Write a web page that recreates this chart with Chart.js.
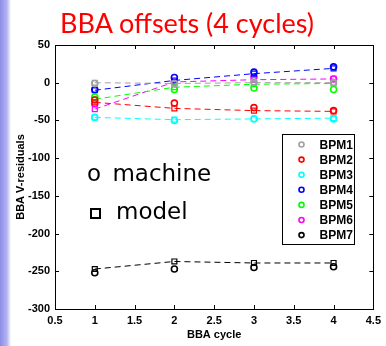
<!DOCTYPE html>
<html>
<head>
<meta charset="utf-8">
<script src="https://cdn.jsdelivr.net/npm/chart.js@4"></script>
<style>
  html, body { margin: 0; padding: 0; }
  body {
    width: 386px; height: 346px; position: relative; overflow: hidden;
    background: linear-gradient(to right, #8c8ce6 0px, #b4b4f2 7px, #ffffff 11px);
  }
  #c { position: absolute; left: 0; top: 0; }
  .title {
    position: absolute; left: 60px; top: 6px;
    font-family: Lato, "Open Sans", sans-serif; font-size: 27px; color: #ff0000;
    white-space: nowrap;
  }
  .note {
    position: absolute; font-family: "DejaVu Sans", sans-serif; font-size: 23px;
    color: #000; white-space: nowrap;
  }
  .sq { display: inline-block; width: 7px; height: 7px; border: 2px solid #000; margin-right: 15px; }
</style>
</head>
<body>
<canvas id="c" width="386" height="346"></canvas>
<div class="title">BBA offsets (4 cycles)</div>
<div class="note" style="left:87px; top:160px; word-spacing:4px;">o machine</div>
<div class="note" style="left:90px; top:198px;"><span class="sq"></span>model</div>
<script>
const cycles = [1, 2, 3, 4];
const bpmNames = ["BPM1", "BPM2", "BPM3", "BPM4", "BPM5", "BPM6", "BPM7"];
const bpmColors = ["#a0a0a0", "#ff0000", "#00ffff", "#0000ff", "#00ff00", "#ff00ff", "#000000"];

// machine (circles)
const machine = [
  [-1, -1, 1, 0],
  [-23, -27, -33, -37],
  [-46, -50, -48, -48],
  [-9, 7, 14, 21],
  [-19, -9, -7, -9],
  [-28, 1, 8, 5],
  [-252, -247, -245, -244]
];
// model (squares, dashed)
const model = [
  [0, -1, 0, 0],
  [-26, -34, -37, -38],
  [-46, -49, -48, -47],
  [-10, 3, 12, 19],
  [-22, -6, -2, -1],
  [-35, 1, 4, 5],
  [-247, -237, -239, -239]
];

const xTicks = [0.5, 1, 1.5, 2, 2.5, 3, 3.5, 4, 4.5];
const yTicks = [50, 0, -50, -100, -150, -200, -250, -300];

const datasets = [];
bpmNames.forEach((name, i) => {
  datasets.push({
    label: name + " model",
    data: cycles.map((c, j) => ({x: c, y: model[i][j]})),
    borderColor: bpmColors[i],
    backgroundColor: "transparent",
    borderWidth: 1,
    borderDash: [6, 4],
    pointStyle: "rect",
    pointRadius: 3.5,
    pointBorderWidth: 1.2,
    showLine: true
  });
  datasets.push({
    label: name,
    data: cycles.map((c, j) => ({x: c, y: machine[i][j]})),
    borderColor: bpmColors[i],
    backgroundColor: "transparent",
    pointStyle: "circle",
    pointRadius: 3,
    pointBorderWidth: 1.6,
    showLine: false
  });
});

const tickFont = {family: "Liberation Sans, Arial, sans-serif", size: 11, weight: "bold"};

const frame = {
  id: "frame",
  afterDraw(chart) {
    const {ctx, chartArea: a, scales} = chart;
    ctx.save();
    ctx.strokeStyle = "#000";
    ctx.lineWidth = 1;
    ctx.strokeRect(Math.round(a.left) + 0.5, Math.round(a.top) + 0.5,
      Math.round(a.right - a.left), Math.round(a.bottom - a.top));
    ctx.beginPath();
    xTicks.forEach(v => {
      const px = Math.round(scales.x.getPixelForValue(v)) + 0.5;
      ctx.moveTo(px, a.bottom); ctx.lineTo(px, a.bottom - 4);
      ctx.moveTo(px, a.top); ctx.lineTo(px, a.top + 4);
    });
    yTicks.forEach(v => {
      const py = Math.round(scales.y.getPixelForValue(v)) + 0.5;
      ctx.moveTo(a.left, py); ctx.lineTo(a.left + 4, py);
      ctx.moveTo(a.right, py); ctx.lineTo(a.right - 4, py);
    });
    ctx.stroke();

    // legend box
    const lx = Math.round(a.right - 91) + 0.5, ly = Math.round(a.top + 89) + 0.5;
    ctx.fillStyle = "#fff";
    ctx.fillRect(lx, ly, 72, 110);
    ctx.strokeRect(lx, ly, 72, 110);
    ctx.font = "bold 12px Liberation Sans, Arial, sans-serif";
    ctx.textBaseline = "middle";
    bpmNames.forEach((name, i) => {
      const ry = ly + 10 + i * 15.1;
      ctx.beginPath();
      ctx.strokeStyle = bpmColors[i];
      ctx.lineWidth = 1.6;
      ctx.arc(lx + 19, ry, 2.5, 0, Math.PI * 2);
      ctx.stroke();
      ctx.fillStyle = "#000";
      ctx.fillText(name, lx + 37, ry + 1);
    });
    ctx.restore();
  }
};

new Chart(document.getElementById("c"), {
  type: "scatter",
  data: {datasets},
  options: {
    responsive: false,
    animation: false,
    devicePixelRatio: 1,
    layout: {padding: {top: 45, right: 11, left: 14, bottom: 4}},
    plugins: {legend: {display: false}, tooltip: {enabled: false}},
    scales: {
      x: {
        type: "linear", min: 0.5, max: 4.5,
        grid: {display: false, drawTicks: false},
        border: {display: false},
        afterBuildTicks: s => { s.ticks = xTicks.map(v => ({value: v})); },
        afterFit: s => { s.height = 33; },
        ticks: {color: "#000", font: tickFont, padding: 5, maxRotation: 0, callback: v => String(v)},
        title: {display: true, text: "BBA cycle", color: "#000", font: tickFont, padding: {top: 0, bottom: 0}}
      },
      y: {
        type: "linear", min: -300, max: 50,
        grid: {display: false, drawTicks: false},
        border: {display: false},
        afterBuildTicks: s => { s.ticks = yTicks.map(v => ({value: v})); },
        afterFit: s => { s.width = 41; },
        ticks: {color: "#000", font: tickFont, padding: 5, callback: v => String(v)},
        title: {display: true, text: "BBA V-residuals", color: "#000", font: tickFont, padding: {top: 0, bottom: 0}}
      }
    }
  },
  plugins: [frame]
});
</script>
</body>
</html>
